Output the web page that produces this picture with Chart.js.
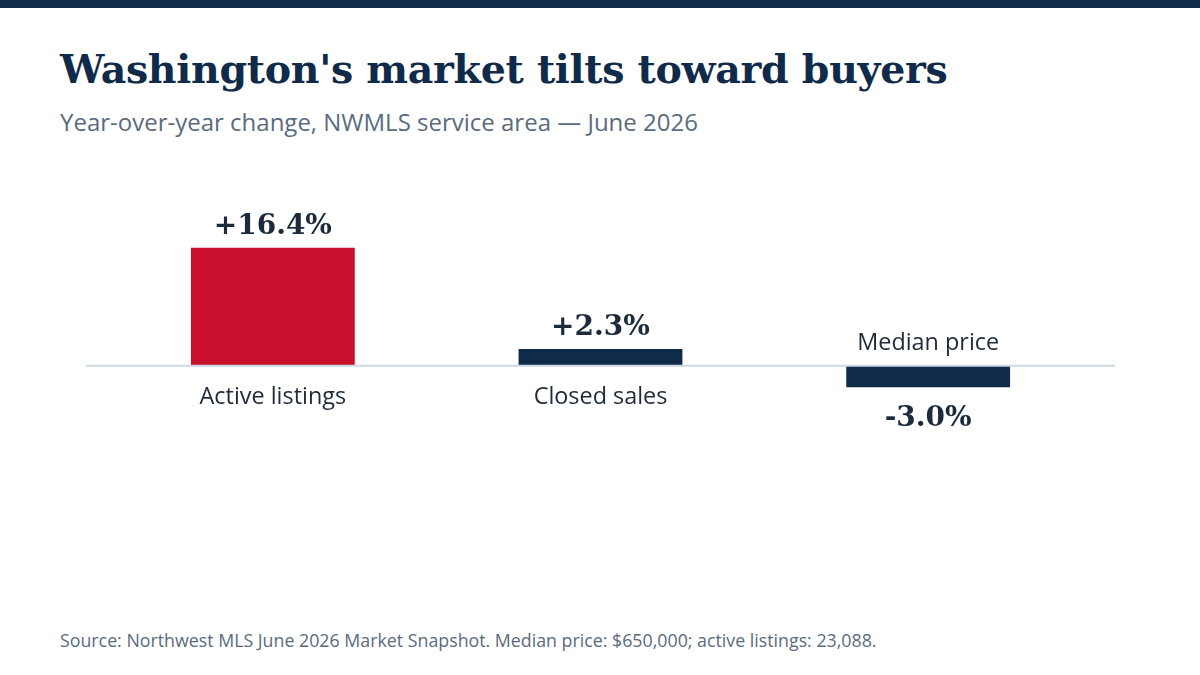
<!DOCTYPE html>
<html>
<head>
<meta charset="utf-8">
<script src="https://cdn.jsdelivr.net/npm/chart.js@4/dist/chart.umd.min.js"></script>
<style>
  html, body { margin: 0; padding: 0; background: #fff; }
  body { width: 1200px; height: 675px; position: relative; overflow: hidden; }
  .topbar { position: absolute; left: 0; top: 0; width: 1200px; height: 8px; background: #102a4a; }
  h1 {
    position: absolute; left: 60px; top: 46px; margin: 0;
    font-family: "DejaVu Serif", serif; font-weight: bold; font-size: 39.5px;
    color: #102a4a; white-space: nowrap; letter-spacing: -0.3px;
  }
  .sub {
    position: absolute; left: 60px; top: 105px; margin: 0;
    font-family: "Open Sans", "Noto Sans", sans-serif; font-size: 24px;
    color: #5b6b7e; white-space: nowrap;
  }
  .src {
    position: absolute; left: 60px; top: 628px; margin: 0;
    font-family: "Open Sans", "Noto Sans", sans-serif; font-size: 17.8px;
    color: #5b6b7e; white-space: nowrap;
  }
  #wrap { position: absolute; left: 86px; top: 150px; width: 1029px; height: 460px; }
</style>
</head>
<body>
<div class="topbar"></div>
<h1>Washington's market tilts toward buyers</h1>
<div class="sub">Year-over-year change, NWMLS service area — June 2026</div>
<div id="wrap"><canvas id="chart"></canvas></div>
<div class="src">Source: Northwest MLS June 2026 Market Snapshot. Median price: $650,000; active listings: 23,088.</div>

<script>
// Dados
const categorias = ["Active listings", "Closed sales", "Median price"];
const variacoes = [16.4, 2.3, -3.0];
const rotulos = ["+16.4%", "+2.3%", "-3.0%"];
const cores = ["#c8102e", "#102a4a", "#102a4a"];

// Plugin: linha do zero, valores e nomes das categorias
const rotulosPlugin = {
  id: "rotulos",
  afterDatasetsDraw(chart) {
    const ctx = chart.ctx;
    const y0 = chart.scales.y.getPixelForValue(0);

    ctx.save();
    ctx.strokeStyle = "#cfd9e3";
    ctx.lineWidth = 2;
    ctx.beginPath();
    ctx.moveTo(0, y0);
    ctx.lineTo(chart.width, y0);
    ctx.stroke();

    const barras = chart.getDatasetMeta(0).data;
    barras.forEach((bar, i) => {
      const positivo = variacoes[i] >= 0;
      ctx.textAlign = "center";
      ctx.textBaseline = "middle";

      // valor
      ctx.fillStyle = "#1c2a3c";
      ctx.font = "bold 28px 'DejaVu Serif', serif";
      ctx.fillText(rotulos[i], bar.x, positivo ? bar.y - 21 : bar.y + 32);

      // categoria
      ctx.fillStyle = "#1f2b3a";
      ctx.font = "23.4px 'Open Sans', 'Noto Sans', sans-serif";
      ctx.fillText(categorias[i], bar.x, positivo ? y0 + 32 : y0 - 22);
    });
    ctx.restore();
  }
};

new Chart(document.getElementById("chart"), {
  type: "bar",
  data: {
    labels: categorias,
    datasets: [{
      data: variacoes,
      backgroundColor: cores,
      borderWidth: 0,
      barPercentage: 0.5,
      categoryPercentage: 1
    }]
  },
  options: {
    responsive: true,
    maintainAspectRatio: false,
    animation: false,
    layout: { padding: { left: 23, right: 23, top: 0, bottom: 0 } },
    scales: {
      x: { display: false },
      y: { display: false, min: -34, max: 30 }
    },
    plugins: {
      legend: { display: false },
      tooltip: { enabled: false }
    }
  },
  plugins: [rotulosPlugin]
});
</script>
</body>
</html>
